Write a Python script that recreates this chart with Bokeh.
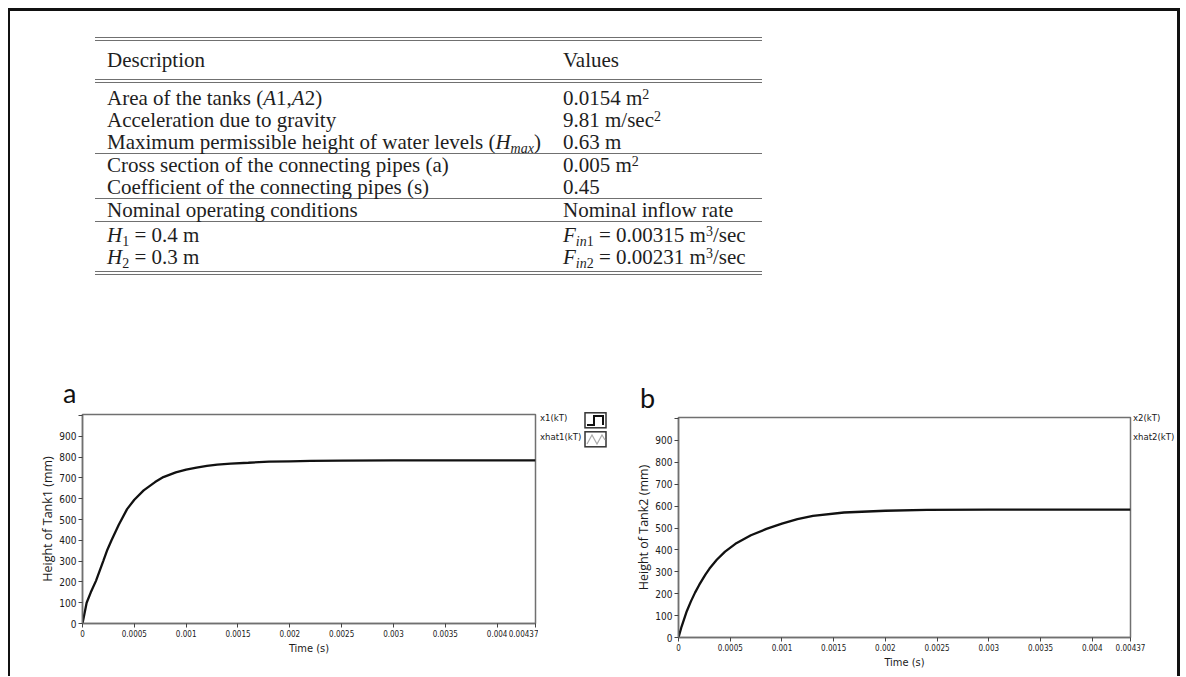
from bokeh.plotting import figure
from bokeh.models import Div, Range1d, FixedTicker, CustomJSTickFormatter
from bokeh.layouts import column, row
from bokeh.embed import file_html
from bokeh.resources import INLINE

# ---------------- table data ----------------
table_header = ["Description", "Values"]
table_desc = [
    "Area of the tanks (<i>A</i>1,<i>A</i>2)",
    "Acceleration due to gravity",
    "Maximum permissible height of water levels (<i>H</i><sub><i>max</i></sub>)",
    "Cross section of the connecting pipes (a)",
    "Coefficient of the connecting pipes (s)",
    "Nominal operating conditions",
    "<i>H</i><sub>1</sub> = 0.4 m",
    "<i>H</i><sub>2</sub> = 0.3 m",
]
table_vals = [
    "0.0154 m<sup>2</sup>",
    "9.81 m/sec<sup>2</sup>",
    "0.63 m",
    "0.005 m<sup>2</sup>",
    "0.45",
    "Nominal inflow rate",
    "<i>F</i><sub><i>in</i>1</sub> = 0.00315 m<sup>3</sup>/sec",
    "<i>F</i><sub><i>in</i>2</sub> = 0.00231 m<sup>3</sup>/sec",
]
rule_after = [2, 4, 5]

# ---------------- chart data ----------------
time_a_s = [0, 0.00004, 0.00008, 0.00013, 0.0002, 0.00024, 0.00028, 0.00035, 0.00043,
            0.0005, 0.00059, 0.0007, 0.00078, 0.0009, 0.001, 0.0011, 0.0012, 0.0013,
            0.00143, 0.0016, 0.0018, 0.002, 0.0022, 0.0025, 0.003, 0.00437]
tank1_mm = [0, 100, 150, 205, 300, 355, 400, 475, 550,
            595, 640, 680, 704, 727, 740, 750, 758, 764,
            769, 773, 778, 780, 782, 783, 784, 784]

time_b_s = [0, 0.00003, 0.00008, 0.00012, 0.00016, 0.0002, 0.00026, 0.0003, 0.00037,
            0.00045, 0.00055, 0.0007, 0.00085, 0.001, 0.00115, 0.0013, 0.0016, 0.002,
            0.0024, 0.003, 0.00437]
tank2_mm = [0, 50, 120, 165, 205, 240, 287, 315, 355,
            392, 428, 467, 496, 520, 541, 556, 571, 579,
            583, 584, 584]

x_ticks = [0, 0.0005, 0.001, 0.0015, 0.002, 0.0025, 0.003, 0.0035, 0.004, 0.00437]
x_tick_labels = ["0", "0.0005", "0.001", "0.0015", "0.002", "0.0025", "0.003",
                 "0.0035", "0.004", "0.00437"]
y_ticks = [0, 100, 200, 300, 400, 500, 600, 700, 800, 900, 1000]
y_tick_labels = ["0", "100", "200", "300", "400", "500", "600", "700", "800", "900", ""]

legend_a = ["x1(kT)", "xhat1(kT)"]
legend_b = ["x2(kT)", "xhat2(kT)"]

NARROW = "'Liberation Sans Narrow', 'DejaVu Sans Condensed', 'Roboto', sans-serif"

# ---------------- top block (table + letters + border) ----------------
SUPCSS = "font-size:14px;position:relative;top:-0.45em;line-height:0;vertical-align:baseline;"
SUBCSS = "font-size:14px;position:relative;top:0.3em;line-height:0;vertical-align:baseline;"


def fix(s):
    return (s.replace("<sup>", f'<span style="{SUPCSS}">').replace("</sup>", "</span>")
             .replace("<sub>", f'<span style="{SUBCSS}">').replace("</sub>", "</span>"))


GRAY = "#707070"
cell = "padding:0 0 0 12px;white-space:nowrap;"
rows_html = (
    f'<tr><td style="{cell}width:456px;line-height:38px;border-top:4px double {GRAY};border-bottom:4px double {GRAY};">{table_header[0]}</td>'
    f'<td style="{cell}width:211px;line-height:38px;border-top:4px double {GRAY};border-bottom:4px double {GRAY};">{table_header[1]}</td></tr>'
)
n = len(table_desc)
for i, (d, v) in enumerate(zip(table_desc, table_vals)):
    pt = 4 if i == 0 else (2 if i == 6 else 0)
    pb = 3 if i == n - 1 else 0
    st = f"padding:{pt}px 0 {pb}px 12px;white-space:nowrap;line-height:22px;"
    if i in rule_after:
        st += f"border-bottom:1px solid {GRAY};"
    if i == n - 1:
        st += f"border-bottom:4px double {GRAY};"
    rows_html += f'<tr><td style="{st}">{fix(d)}</td><td style="{st}">{fix(v)}</td></tr>'

top_html = f"""
<div style="position:relative;width:1172px;height:404px;background:white;">
  <div style="position:absolute;left:0;top:0;width:1172px;height:3px;background:#111;"></div>
  <div style="position:absolute;left:0;top:0;width:2px;height:404px;background:#111;"></div>
  <div style="position:absolute;left:1169px;top:0;width:3px;height:404px;background:#111;"></div>
  <table style="position:absolute;left:87px;top:29px;border-collapse:separate;border-spacing:0;
         font-family:'Liberation Serif','Times New Roman',serif;font-size:21px;color:#1e1e1e;">
    {rows_html}
  </table>
  <div style="position:absolute;left:55px;top:371px;font-family:Lato,sans-serif;font-size:27px;line-height:27px;color:#111;">a</div>
  <div style="position:absolute;left:632px;top:376px;font-family:Lato,sans-serif;font-size:27px;line-height:27px;color:#111;">b</div>
</div>
"""
top_div = Div(text=top_html, width=1172, height=404, margin=0)

ROW_H = 264


def bar(w, h):
    return Div(text=f'<div style="width:{w}px;height:{h}px;background:#111;"></div>',
               width=w, height=h, margin=0)


FMT_CODE = "const i = tv.indexOf(tick); return i >= 0 ? tl[i] : '';"


def make_chart(t, h, ylabel, ymax, width, bl, bt, bb, br):
    p = figure(width=width, height=ROW_H, x_range=Range1d(0, 0.00437), y_range=Range1d(0, ymax),
               output_backend="svg", toolbar_location=None, title=None,
               min_border_left=bl, min_border_top=bt, min_border_bottom=bb, min_border_right=br)
    p.grid.visible = False
    p.outline_line_color = GRAY
    p.outline_line_width = 1.5
    p.xaxis.ticker = FixedTicker(ticks=x_ticks)
    p.xaxis.formatter = CustomJSTickFormatter(args=dict(tv=x_ticks, tl=x_tick_labels), code=FMT_CODE)
    p.yaxis.ticker = FixedTicker(ticks=y_ticks)
    p.yaxis.formatter = CustomJSTickFormatter(args=dict(tv=y_ticks, tl=y_tick_labels), code=FMT_CODE)
    for ax in p.axis:
        ax.axis_line_color = GRAY
        ax.axis_line_width = 1.5
        ax.major_tick_line_color = "#444"
        ax.major_tick_out = 4
        ax.major_tick_in = 0
        ax.minor_tick_line_color = None
        ax.major_label_text_font = NARROW
        ax.major_label_text_font_size = "8px"
        ax.major_label_text_color = "#1a1a1a"
        ax.major_label_standoff = 2
        ax.axis_label_text_font_style = "normal"
        ax.axis_label_text_color = "#1a1a1a"
    p.yaxis.major_label_text_font_size = "10px"
    p.xaxis.axis_label = "Time (s)"
    p.xaxis.axis_label_text_font = NARROW
    p.xaxis.axis_label_text_font_size = "11px"
    p.xaxis.axis_label_standoff = 2
    p.yaxis.axis_label = ylabel
    p.yaxis.axis_label_text_font = "Open Sans"
    p.yaxis.axis_label_text_font_size = "12.5px"
    p.yaxis.axis_label_standoff = 0
    p.line(t, h, line_color="#111", line_width=2.3)
    return p


chart_a = make_chart(time_a_s, tank1_mm, "Height of Tank1 (mm)", 1005, 528, 72, 2, 53, 3)
chart_b = make_chart(time_b_s, tank2_mm, "Height of Tank2 (mm)", 1005, 534, 66, 5, 39, 16)

# legend of chart a (LabVIEW style plot legend with icons)
leg_a_html = f"""
<div style="position:relative;width:74px;height:60px;font-family:{NARROW};font-size:9.5px;color:#1a1a1a;">
  <span style="position:absolute;left:2px;top:0px;line-height:12px;white-space:nowrap;">{legend_a[0]}</span>
  <span style="position:absolute;left:2px;top:19px;line-height:12px;white-space:nowrap;">{legend_a[1]}</span>
  <svg style="position:absolute;left:46px;top:0px;" width="24" height="38">
    <rect x="1" y="0.8" width="21" height="15" fill="white" stroke="#333" stroke-width="1.5"/>
    <polyline points="3,13 10,13 10,4 19,4 19,13" fill="none" stroke="#111" stroke-width="2"/>
    <rect x="1" y="19.8" width="21" height="15" fill="white" stroke="#333" stroke-width="1.5"/>
    <polyline points="3,32 8,23 13,32 18,23 21,28" fill="none" stroke="#aaa" stroke-width="1.2"/>
  </svg>
</div>
"""
leg_a = Div(text=leg_a_html, width=74, height=ROW_H, margin=0)

# legend of chart b (its icons are cut off by the page border in the source)
leg_b_html = f"""
<div style="position:relative;width:31px;height:60px;overflow:visible;font-family:{NARROW};font-size:9.5px;color:#1a1a1a;">
  <span style="position:absolute;left:-13px;top:0px;line-height:12px;white-space:nowrap;">{legend_b[0]}</span>
  <span style="position:absolute;left:-13px;top:19px;line-height:12px;white-space:nowrap;">{legend_b[1]}</span>
</div>
"""
leg_b = Div(text=leg_b_html, width=31, height=ROW_H, margin=0, styles={"overflow": "visible"})

# charts wrapped in their own columns so their plot frames are not aligned to each other
layout = column(top_div,
                row(bar(2, ROW_H), column(chart_a, spacing=0), leg_a,
                    column(chart_b, spacing=0), leg_b, bar(3, ROW_H), spacing=0),
                spacing=0, margin=(8, 0, 0, 8))

open("out.html", "w").write(file_html(layout, INLINE))
